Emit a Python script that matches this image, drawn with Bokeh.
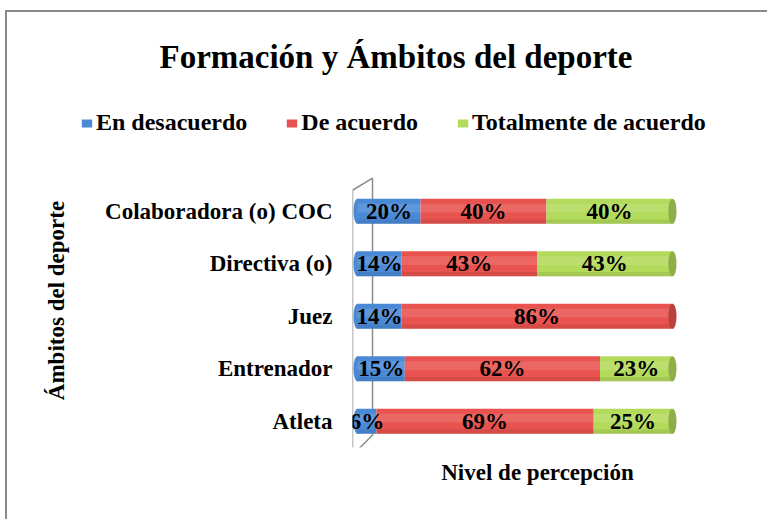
from bokeh.plotting import figure
from bokeh.layouts import column
from bokeh.models import Range1d, FixedTicker, Legend, LegendItem, ColumnDataSource, Title
from bokeh.core.properties import value
from bokeh.embed import file_html
from bokeh.resources import INLINE

# ---------------- data ----------------
categories = ["Colaboradora (o) COC", "Directiva (o)", "Juez", "Entrenador", "Atleta"]
en_desacuerdo = [20, 14, 14, 15, 6]
de_acuerdo = [40, 43, 86, 62, 69]
totalmente_de_acuerdo = [40, 43, 0, 23, 25]
series_names = ["En desacuerdo", "De acuerdo", "Totalmente de acuerdo"]
title_text = "Formación y  Ámbitos del deporte"
y_title = "Ámbitos del deporte"
x_title = "Nivel de percepción"

# ---------------- style ----------------
FONT = "Liberation Serif"
colors = ["#4A89D6", "#E8524F", "#B2DA5B"]
darks = ["#3A6DB0", "#B94240", "#8DAE48"]
BAR_H = 0.48
W = 760

series = [en_desacuerdo, de_acuerdo, totalmente_de_acuerdo]
n = len(categories)
ys = [n - 1 - i for i in range(n)]

# stacked extents per series
sources = []
lefts = [0] * n
for vals in series:
    rights = [l + v for l, v in zip(lefts, vals)]
    sources.append(ColumnDataSource(dict(y=ys, left=lefts, right=rights)))
    lefts = rights
totals = lefts


def clean(fig):
    fig.outline_line_color = None
    fig.background_fill_color = "white"
    fig.border_fill_color = "white"
    fig.frame_align = False


# ---------------- header: title + legend ----------------
head = figure(width=W, height=141, x_range=Range1d(0, 1), y_range=Range1d(100, 101),
              x_axis_type=None, y_axis_type=None,
              output_backend="svg", toolbar_location=None,
              min_border_left=0, min_border_right=0, min_border_top=75, min_border_bottom=0)
clean(head)
head.title_location = None
head.add_layout(Title(text=title_text, text_font=FONT, text_font_style="bold",
                      text_font_size="33px", text_color="black", align="left",
                      offset=152, standoff=25), "above")

# legend entries (same stacked data; outside the header's visible range)
legend_renderers = [head.hbar(y="y", left="left", right="right", height=BAR_H, source=src,
                              fill_color=c, line_color=None)
                    for src, c in zip(sources, colors)]
legend = Legend(items=[LegendItem(label=nm, renderers=[r]) for nm, r in zip(series_names, legend_renderers)],
                orientation="horizontal", location=(73, 17),
                label_text_font=FONT, label_text_font_style="bold",
                label_text_font_size="24px", label_text_color="black",
                glyph_width=13, glyph_height=10, label_standoff=3, spacing=38,
                padding=0, margin=0, border_line_color=None, background_fill_alpha=0.0)
head.add_layout(legend, "center")

# ---------------- main chart ----------------
p = figure(width=W, height=366,
           x_range=Range1d(-1.6, 115.9), y_range=Range1d(-0.5, n + 0.1),
           output_backend="svg", toolbar_location=None,
           min_border_left=345, min_border_right=45,
           min_border_top=0, min_border_bottom=72)
clean(p)
p.title_location = None
p.xgrid.grid_line_color = None
p.ygrid.grid_line_color = None

# 3-D wall outline behind the bars
wall_l, wall_r = p.x_range.start, 4.76
p.patch([wall_l, wall_r, wall_r, wall_l],
        [n - 0.6, n - 0.37, -0.26, -0.65],
        fill_color="white", fill_alpha=0.0, line_color="#8C8C8C", line_width=1.5)

# rounded left ends of the cylinders
p.ellipse(x=[0] * n, y=ys, width=2.6, height=BAR_H, fill_color=colors[0], line_color=None)

# stacked bars
for k, src in enumerate(sources):
    p.hbar(y="y", left="left", right="right", height=BAR_H, source=src,
           fill_color=colors[k], line_color=None)
    # soft highlight / shadow for a cylinder look
    l, r = src.data["left"], src.data["right"]
    p.hbar(y=[y + 0.06 for y in ys], left=l, right=r, height=BAR_H * 0.35,
           fill_color="white", fill_alpha=0.12, line_color=None)
    p.hbar(y=[y - 0.2 for y in ys], left=l, right=r, height=BAR_H * 0.17,
           fill_color="black", fill_alpha=0.08, line_color=None)

# right end caps of the cylinders
cap_colors = []
for i in range(n):
    last = max(k for k in range(len(series)) if series[k][i] > 0)
    cap_colors.append(darks[last])
p.ellipse(x=totals, y=ys, width=2.6, height=BAR_H, fill_color=cap_colors, line_color=None)

# data labels
lx, ly, lt = [], [], []
start = [0] * n
for vals in series:
    for i, v in enumerate(vals):
        if v > 0:
            lx.append(start[i] + v / 2)
            ly.append(ys[i])
            lt.append(f"{v}%")
        start[i] += v
p.text(x=lx, y=ly, text=lt, text_font=value(FONT), text_font_style="bold",
       text_font_size="23px", text_align="center", text_baseline="middle",
       text_color="black")

# y axis with category names
p.yaxis.ticker = FixedTicker(ticks=ys)
p.yaxis.major_label_overrides = {y: c for y, c in zip(ys, categories)}
p.yaxis.major_label_text_font = FONT
p.yaxis.major_label_text_font_style = "bold"
p.yaxis.major_label_text_font_size = "23px"
p.yaxis.major_label_text_color = "black"
p.yaxis.major_label_standoff = 14
p.yaxis.axis_line_color = None
p.yaxis.major_tick_line_color = None
p.yaxis.minor_tick_line_color = None
p.yaxis.axis_label = y_title
p.yaxis.axis_label_text_font = FONT
p.yaxis.axis_label_text_font_style = "bold"
p.yaxis.axis_label_text_font_size = "23px"
p.yaxis.axis_label_text_color = "black"
p.yaxis.axis_label_standoff = 33

# x axis (only its title is visible)
p.xaxis.ticker = FixedTicker(ticks=[])
p.xaxis.major_label_text_font_size = "0px"
p.xaxis.axis_line_color = None
p.xaxis.major_tick_line_color = None
p.xaxis.minor_tick_line_color = None
p.xaxis.axis_label = x_title
p.xaxis.axis_label_text_font = FONT
p.xaxis.axis_label_text_font_style = "bold"
p.xaxis.axis_label_text_font_size = "23px"
p.xaxis.axis_label_text_color = "black"
p.xaxis.axis_label_standoff = 12

layout = column(head, p, spacing=0)
layout.styles = {"border-left": "2px solid #8A8A8A", "border-top": "2px solid #8A8A8A",
                 "position": "relative", "left": "5px", "top": "10px"}

open("out.html", "w").write(file_html(layout, INLINE))
